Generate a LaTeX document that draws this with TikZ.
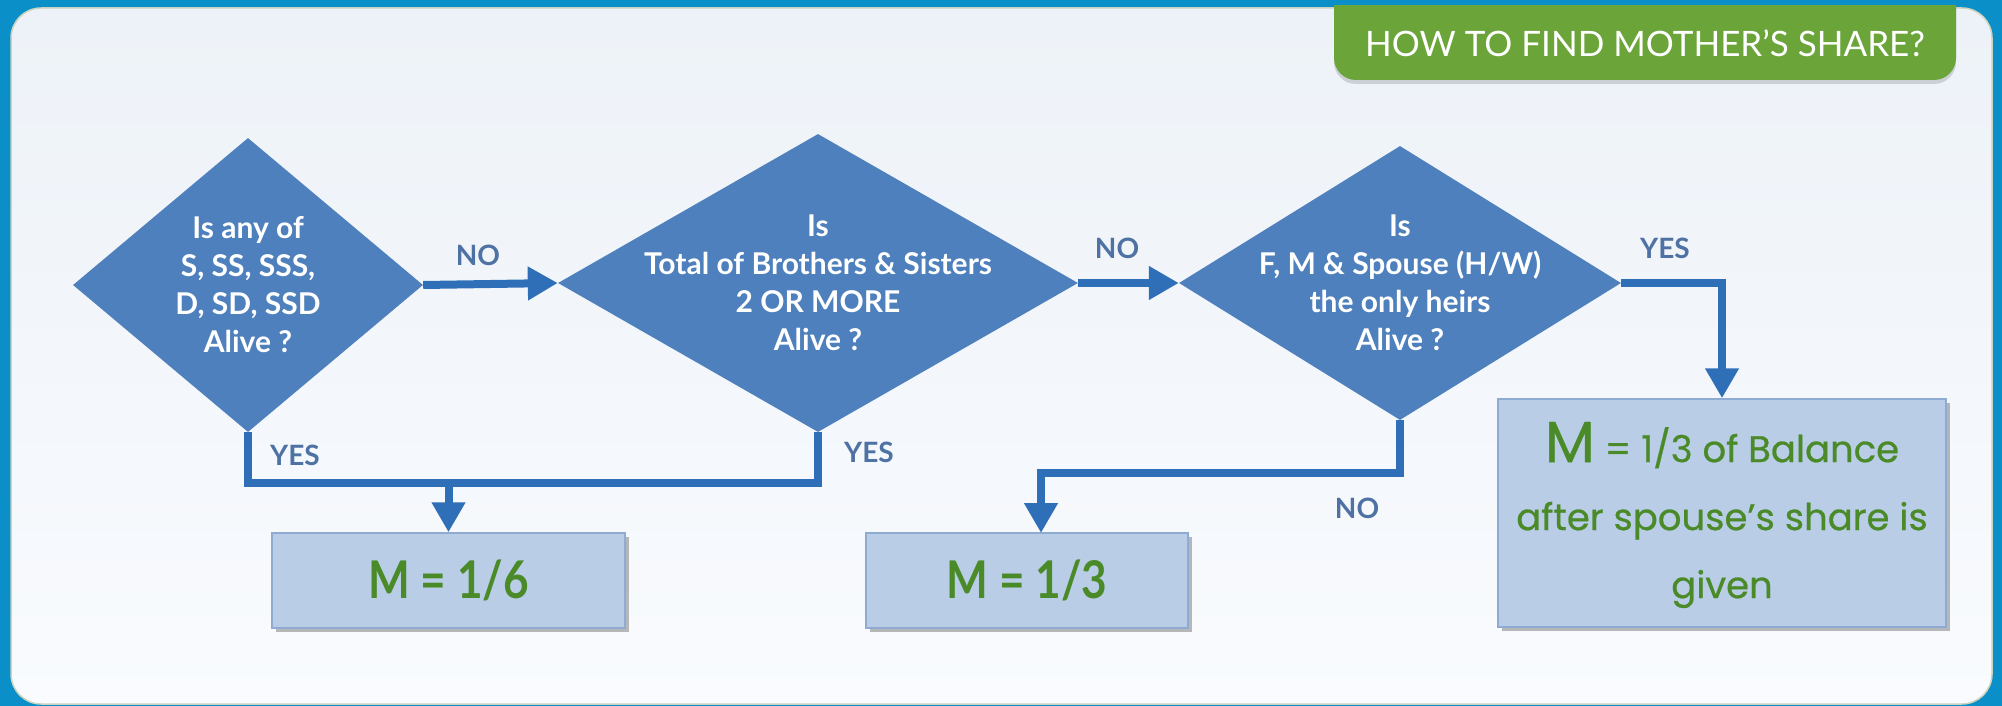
\documentclass[tikz,border=0pt]{standalone}
\usepackage{fontspec}
\setmainfont{Lato}
\newfontfamily\greenfont[FakeBold=0.6]{Poppins}
\usetikzlibrary{arrows.meta,shapes.geometric,shadows}
\definecolor{frameblue}{HTML}{0A8FC8}
\definecolor{paneltop}{HTML}{EDF2F8}
\definecolor{panelbot}{HTML}{F9FBFE}
\definecolor{panelline}{HTML}{C9D3BE}
\definecolor{tabgreen}{HTML}{6BA53A}
\definecolor{diafill}{HTML}{4D80BC}
\definecolor{connblue}{HTML}{2F6FB7}
\definecolor{lblblue}{HTML}{4E72A3}
\definecolor{boxfill}{HTML}{B9CDE6}
\definecolor{boxline}{HTML}{8FABD1}
\definecolor{ansgreen}{HTML}{4A8A28}
\begin{document}
\begin{tikzpicture}[x=1pt,y=-1pt,
  dia/.style={diamond, fill=diafill, draw=none, inner sep=0pt},
  qtext/.style={text=white, align=center, font=\bfseries\fontsize{30}{38}\selectfont},
  conn/.style={draw=connblue, line width=8pt, line join=miter},
  arr/.style={conn, -{Triangle[length=30pt,width=32pt]}},
  lbl/.style={text=lblblue, font=\bfseries\fontsize{28}{28}\selectfont},
  ansbox/.style={rectangle, fill=boxfill, draw=boxline, line width=1.5pt, inner sep=0pt,
     drop shadow={shadow xshift=4pt, shadow yshift=-4pt, opacity=.45, fill=black!60}},
  anstext/.style={text=ansgreen, align=center},
]
\useasboundingbox (0,0) rectangle (2002,706);
% frame and panel
\fill[frameblue] (0,0) rectangle (2002,706);
\draw[panelline, line width=1.5pt, top color=paneltop, bottom color=panelbot, rounded corners=30pt]
  (11,8) rectangle (1992,704);
% title tab
\fill[tabgreen, rounded corners=22pt, drop shadow={shadow xshift=0pt, shadow yshift=-4pt, opacity=.3}]
  (1334,-30) rectangle (1956,80);
\fill[frameblue] (0,0) rectangle (2002,5);
\node[text=white, font=\fontsize{35}{35}\selectfont] (title) at (1645,43) {HOW TO FIND MOTHER’S SHARE?};

% decisions
\node[dia, minimum width=350pt, minimum height=294pt] (d1) at (248,285) {};
\node[dia, minimum width=520pt, minimum height=298pt] (d2) at (818,283) {};
\node[dia, minimum width=442pt, minimum height=274pt] (d3) at (1400,283) {};
\node[qtext] (q1) at (d1) {Is any of\\S, SS, SSS,\\D, SD, SSD\\Alive ?};
\node[qtext] (q2) at (d2) {Is\\Total of Brothers \& Sisters\\2 OR MORE\\Alive ?};
\node[qtext] (q3) at (d3) {Is\\F, M \& Spouse (H/W)\\the only heirs\\Alive ?};

% answers
\node[ansbox, minimum width=353pt, minimum height=95pt] (b1) at (448.5,580.5) {};
\node[ansbox, minimum width=322pt, minimum height=95pt] (b2) at (1027,580.5) {};
\node[ansbox, minimum width=448pt, minimum height=228pt] (b3) at (1722,513) {};
\node[anstext, font=\bfseries\fontsize{52}{52}\selectfont] (a1) at (b1) {\scalebox{0.85}[1]{M = 1/6}};
\node[anstext, font=\bfseries\fontsize{52}{52}\selectfont] (a2) at (b2) {\scalebox{0.85}[1]{M = 1/3}};
\node[anstext, font=\greenfont\fontsize{37}{68}\selectfont] (a3) at ([yshift=-2pt]b3.center)
  {{\fontsize{58}{58}\selectfont M} {\fontsize{37}{37}\selectfont = 1/3 of Balance}\\after spouse’s share is\\given};

% connectors
\draw[arr] (d1.east) -- (d2.west);
\draw[arr] (d2.east) -- (d3.west);
\draw[arr] (d3.east) -| (b3.north);
\draw[conn] (d1.south) -- ++(0,51) -| (d2.south);
\coordinate (m1) at (b1.north |- 0,483);
\draw[arr] (m1) -- (b1.north);
\coordinate (m2) at (1041,533);
\draw[arr] (d3.south) -- ++(0,53) -| (m2);

% labels
\node[lbl] (l1) at (478,255) {NO};
\node[lbl] (l2) at (1117,248) {NO};
\node[lbl] (l3) at (1665,248) {YES};
\node[lbl] (l4) at (295,455) {YES};
\node[lbl] (l5) at (869,452) {YES};
\node[lbl] (l6) at (1357,508) {NO};
\end{tikzpicture}
\end{document}
